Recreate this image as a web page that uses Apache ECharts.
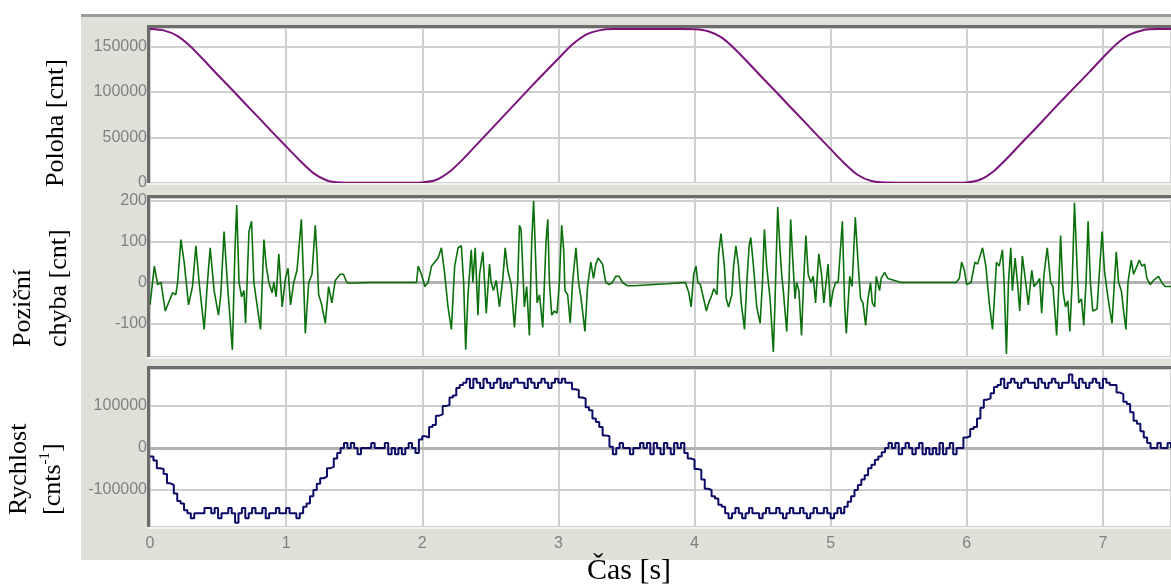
<!DOCTYPE html>
<html><head><meta charset="utf-8">
<script src="https://cdn.jsdelivr.net/npm/echarts@6/dist/echarts.min.js"></script>
<style>html,body{margin:0;padding:0;background:#fff}#c{width:1171px;height:585px}</style>
</head><body><div id="c"></div>
<script>
// ---- data ----
const timeTickLabels = ['0','1','2','3','4','5','6','7'];

// Poloha [cnt], sampled every 0.1 s from t = 0
const positionStep = 0.1;
const positionValues = [
  169500,168000,162000,150000,134500,118500,103000,87000,71500,55500,
  40000,24500,10500,2500,200,0,0,0,0,0,
  300,3000,12000,26000,42000,58000,74000,90000,106000,121500,
  137000,152000,163000,168000,169500,169500,169500,169500,169500,169500,
  169300,167000,160000,147000,131500,115500,100000,84000,68500,52500,
  37000,21500,8500,1800,100,0,0,0,0,0,
  300,3500,13000,27500,43500,59000,75000,91000,106500,122000,
  138000,153000,163500,168500,169500,169500
];

// Poziční chyba [cnt] as [t, value]
const errorPoints = [
 [0,-55],[0.032,40],[0.056,-5],[0.081,0],[0.112,-70],[0.142,-45],[0.166,-25],[0.19,-30],[0.203,0],[0.227,105],
 [0.251,50],[0.283,-55],[0.312,-10],[0.337,90],[0.361,0],[0.398,-115],[0.422,0],[0.442,85],[0.471,-20],[0.503,-80],
 [0.52,-30],[0.544,125],[0.568,0],[0.605,-165],[0.624,80],[0.637,190],[0.654,0],[0.673,-35],[0.69,-20],[0.702,-100],
 [0.727,125],[0.746,150],[0.763,0],[0.78,-40],[0.812,-115],[0.837,105],[0.854,40],[0.873,0],[0.897,-25],[0.91,0],
 [0.927,-35],[0.946,70],[0.971,-60],[0.995,10],[1.014,35],[1.032,-55],[1.056,0],[1.08,30],[1.112,155],[1.129,0],
 [1.141,-125],[1.166,0],[1.19,20],[1.214,140],[1.227,65],[1.239,-30],[1.258,-50],[1.288,-100],[1.312,-10],[1.336,-50],
 [1.361,5],[1.397,20],[1.421,20],[1.446,0],[1.47,-2],[1.616,0],[1.958,0],[1.97,40],[1.994,20],[2.019,-10],
 [2.043,0],[2.068,40],[2.092,50],[2.116,60],[2.141,85],[2.165,20],[2.189,-60],[2.214,-115],[2.238,40],[2.263,85],
 [2.287,90],[2.304,0],[2.319,-165],[2.336,-30],[2.36,80],[2.372,0],[2.389,85],[2.409,-80],[2.421,20],[2.445,75],
 [2.458,0],[2.47,-75],[2.494,45],[2.506,0],[2.523,-20],[2.543,5],[2.567,-60],[2.592,10],[2.609,85],[2.628,30],
 [2.653,-5],[2.677,-110],[2.701,0],[2.714,140],[2.726,130],[2.75,-60],[2.767,-10],[2.787,-130],[2.804,100],[2.818,200],
 [2.844,-50],[2.861,-30],[2.885,-110],[2.909,100],[2.922,155],[2.934,0],[2.951,-80],[2.97,-70],[2.99,-75],[3.007,0],
 [3.024,140],[3.039,80],[3.048,-20],[3.068,-30],[3.087,-100],[3.104,0],[3.129,85],[3.148,0],[3.165,-35],[3.195,-120],
 [3.214,-10],[3.238,50],[3.258,10],[3.275,45],[3.292,60],[3.324,45],[3.348,0],[3.373,-5],[3.397,0],[3.421,15],
 [3.446,15],[3.47,0],[3.507,-8],[3.555,-8],[3.799,-3],[3.933,0],[3.958,-25],[3.975,-60],[3.994,20],[4.011,40],
 [4.024,0],[4.043,-5],[4.067,-40],[4.087,-70],[4.104,-50],[4.128,-30],[4.141,-15],[4.165,-30],[4.177,70],[4.194,120],
 [4.219,40],[4.233,-40],[4.25,-60],[4.274,-30],[4.287,40],[4.304,90],[4.323,40],[4.343,-50],[4.367,-115],[4.384,0],
 [4.401,90],[4.413,110],[4.433,40],[4.457,-60],[4.482,-100],[4.499,0],[4.513,130],[4.53,40],[4.555,-40],[4.579,-170],
 [4.591,-50],[4.611,185],[4.628,80],[4.64,20],[4.652,-20],[4.677,-120],[4.694,0],[4.706,155],[4.721,60],[4.738,-40],
 [4.75,0],[4.767,-20],[4.786,-130],[4.801,0],[4.818,115],[4.835,20],[4.855,0],[4.872,15],[4.889,-50],[4.913,70],
 [4.933,20],[4.95,-50],[4.981,45],[4.998,-60],[5.018,-20],[5.035,0],[5.055,0],[5.086,150],[5.103,-60],[5.115,-125],
 [5.14,15],[5.157,-10],[5.181,160],[5.201,50],[5.22,-40],[5.237,-50],[5.257,-105],[5.274,-40],[5.293,0],[5.306,-50],
 [5.323,-60],[5.335,15],[5.359,-20],[5.371,10],[5.396,25],[5.42,10],[5.469,5],[5.518,0],[5.921,0],[5.945,10],
 [5.962,50],[5.982,30],[5.999,-5],[6.031,0],[6.06,50],[6.079,45],[6.116,85],[6.14,40],[6.165,-50],[6.189,-115],
 [6.206,-20],[6.218,50],[6.238,40],[6.262,80],[6.274,0],[6.291,-175],[6.306,0],[6.323,85],[6.335,-20],[6.355,60],
 [6.372,0],[6.389,-70],[6.408,65],[6.433,0],[6.452,-55],[6.477,30],[6.494,-10],[6.518,0],[6.535,10],[6.55,-75],
 [6.567,20],[6.591,85],[6.616,0],[6.633,-10],[6.66,-130],[6.677,0],[6.689,115],[6.708,-25],[6.725,-60],[6.742,-45],
 [6.757,-120],[6.774,0],[6.791,195],[6.811,30],[6.823,-50],[6.842,-40],[6.859,-105],[6.876,0],[6.891,150],[6.908,0],
 [6.925,-70],[6.957,-65],[6.969,0],[6.994,125],[7.011,30],[7.03,-20],[7.047,-60],[7.067,-100],[7.084,0],[7.098,75],
 [7.115,0],[7.135,-20],[7.152,-70],[7.169,-115],[7.184,0],[7.208,55],[7.225,20],[7.25,40],[7.267,55],[7.286,40],
 [7.306,45],[7.323,10],[7.347,-5],[7.371,5],[7.408,15],[7.432,0],[7.457,-10],[7.5,-10]
];

// Rychlost [cnt/s], sampled every 0.025 s from t = 0
const velocityStep = 0.025;
const velocityValues = [
  -20000,-30000,-48000,-50000,-62000,-84000,-88000,-108000,-126000,-132000,-148000,-155000,-167000,-155000,-155000,-155000,-143000,-143000,-155000,-143000,
  -167000,-155000,-155000,-143000,-155000,-178000,-155000,-143000,-167000,-155000,-143000,-155000,-155000,-143000,-167000,-155000,-155000,-143000,-155000,-155000,
  -143000,-155000,-155000,-167000,-155000,-140000,-132000,-115000,-100000,-85000,-72000,-68000,-48000,-45000,-25000,-12000,0,12000,0,12000,
  0,-15000,0,0,0,12000,0,0,0,12000,-15000,0,-15000,0,-15000,0,12000,0,-12000,20000,
  28000,25000,50000,55000,77000,80000,100000,102000,120000,125000,143000,150000,155000,165000,143000,165000,155000,143000,165000,155000,
  143000,155000,165000,143000,155000,143000,155000,165000,155000,155000,143000,165000,155000,143000,155000,165000,155000,143000,155000,165000,
  155000,165000,155000,155000,140000,138000,120000,118000,97000,90000,70000,62000,50000,30000,28000,3000,-15000,0,12000,0,
  0,-15000,0,0,12000,0,12000,-15000,12000,0,-15000,12000,0,-15000,12000,0,12000,-12000,-25000,-28000,
  -50000,-52000,-75000,-97000,-100000,-115000,-120000,-135000,-140000,-155000,-167000,-155000,-143000,-155000,-167000,-155000,-143000,-155000,-155000,-167000,
  -155000,-143000,-155000,-155000,-143000,-155000,-167000,-155000,-143000,-155000,-155000,-143000,-155000,-167000,-155000,-143000,-155000,-155000,-143000,-155000,
  -167000,-155000,-143000,-155000,-140000,-128000,-115000,-100000,-88000,-75000,-65000,-48000,-40000,-28000,-20000,-10000,0,12000,0,12000,
  -15000,0,12000,0,-15000,0,12000,-15000,0,-15000,0,-15000,12000,-15000,0,12000,-15000,0,0,25000,
  28000,45000,50000,70000,96000,115000,118000,130000,145000,150000,165000,143000,155000,165000,155000,143000,155000,165000,155000,155000,
  143000,165000,155000,143000,155000,165000,155000,143000,155000,155000,175000,155000,143000,165000,155000,143000,155000,165000,155000,143000,
  165000,155000,150000,150000,132000,128000,110000,105000,85000,65000,58000,40000,25000,12000,0,0,12000,0,0,12000,
  0
];

// ---- build ----
const positionData = positionValues.map((v, i) => [+(i * positionStep).toFixed(3), v]);
const velocityData = velocityValues.map((v, i) => [+(i * velocityStep).toFixed(3), v]);

const plotLeft = 150, plotWidth = 1027.5;
const plots = [
  {top: 28, height: 155, min: -330, max: 170600, step: 50000},
  {top: 198, height: 159, min: -182.6, max: 207, step: 100},
  {top: 369, height: 158, min: -188000, max: 188000, step: 100000}
];
const gridLineColor = '#d0d0d0';
const tickFont = {color: '#808080', fontSize: 16, fontFamily: '"Liberation Sans", Arial, sans-serif'};
const serif = '"Liberation Serif", "Times New Roman", serif';

const chart = echarts.init(document.getElementById('c'), null, {renderer: 'canvas'});

const graphics = [
  {type: 'rect', z: -100, shape: {x: 81, y: 14, width: 1090, height: 546}, style: {fill: '#e1e0d8'}},
  {type: 'rect', z: 100, shape: {x: 81, y: 14, width: 1090, height: 3}, style: {fill: '#9b9b9b'}}
];
plots.forEach(p => {
  graphics.push({type: 'rect', z: 100, shape: {x: 147, y: p.top - 3, width: 1030, height: 3}, style: {fill: '#6c6c6c'}});
  graphics.push({type: 'rect', z: 100, shape: {x: 147, y: p.top - 3, width: 3, height: p.height + 3}, style: {fill: '#6c6c6c'}});
  graphics.push({type: 'rect', z: 100, shape: {x: 147, y: p.top + p.height, width: 1030, height: 2}, style: {fill: '#f3f3f0'}});
});
const vText = (text, x, y) => ({
  type: 'text', z: 100, x: x, y: y, rotation: Math.PI / 2,
  style: {text: text, font: '26px ' + serif, fill: '#000', align: 'left', verticalAlign: 'middle'}
});
graphics.push(vText('Poloha [cnt]', 56, 187));
graphics.push(vText('Poziční', 23, 347));
graphics.push(vText('chyba [cnt]', 59, 347));
graphics.push(vText('Rychlost', 19, 515));
graphics.push({
  type: 'text', z: 100, x: 53, y: 515, rotation: Math.PI / 2,
  style: {
    text: '{a|[cnts}{s|-1}{a|]}', align: 'left', verticalAlign: 'middle', fill: '#000',
    rich: {
      a: {fontSize: 26, fontFamily: serif, fill: '#000', lineHeight: 30},
      s: {fontSize: 15, fontFamily: serif, fill: '#000', verticalAlign: 'top', lineHeight: 30}
    }
  }
});
graphics.push({
  type: 'text', z: 100, x: 629, y: 571,
  style: {text: 'Čas [s]', font: '30px ' + serif, fill: '#000', align: 'center', verticalAlign: 'middle'}
});

const zeroLine = {
  silent: true, symbol: 'none', z: 1,
  label: {show: false},
  lineStyle: {color: '#b2b2b2', width: 3, type: 'solid'},
  emphasis: {disabled: true},
  data: [{yAxis: 0}]
};

chart.setOption({
  animation: false,
  backgroundColor: '#ffffff',
  graphic: {elements: graphics},
  grid: plots.map(p => ({left: plotLeft, top: p.top, width: plotWidth, height: p.height,
    show: true, backgroundColor: '#ffffff', borderWidth: 0})),
  xAxis: plots.map((p, i) => ({
    type: 'value', gridIndex: i, min: 0, max: 7.5, interval: 1,
    axisLine: {show: false}, axisTick: {show: false},
    splitLine: {show: true, lineStyle: {color: gridLineColor, width: 2}},
    axisLabel: Object.assign({show: i === 2, margin: 9, showMaxLabel: false,
      formatter: v => (Number.isInteger(v) ? timeTickLabels[v] : '')}, tickFont)
  })),
  yAxis: plots.map((p, i) => ({
    type: 'value', gridIndex: i, min: p.min, max: p.max,
    minInterval: p.step, maxInterval: p.step,
    axisLine: {show: false}, axisTick: {show: false},
    splitLine: {show: true, lineStyle: {color: gridLineColor, width: 2}},
    axisLabel: Object.assign({margin: 3, showMinLabel: false, showMaxLabel: false,
      formatter: v => String(v)}, tickFont)
  })),
  series: [
    {type: 'line', xAxisIndex: 0, yAxisIndex: 0, data: positionData, showSymbol: false, smooth: 0.2,
      lineStyle: {color: '#7a137a', width: 2}, z: 3, silent: true},
    {type: 'line', xAxisIndex: 1, yAxisIndex: 1, data: errorPoints, showSymbol: false,
      lineStyle: {color: '#0b700b', width: 1.6}, z: 3, silent: true, markLine: zeroLine},
    {type: 'line', xAxisIndex: 2, yAxisIndex: 2, data: velocityData, showSymbol: false, step: 'end',
      lineStyle: {color: '#0c0c68', width: 2}, z: 3, silent: true, markLine: zeroLine}
  ]
});
</script>
</body></html>
